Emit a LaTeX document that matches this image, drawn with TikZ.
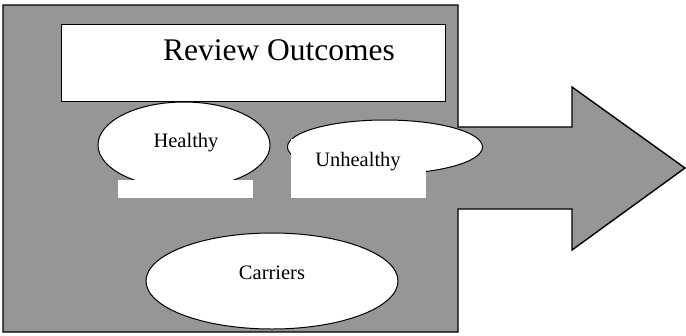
\documentclass[tikz,border=0pt]{standalone}
\usepackage{fontspec}
\setmainfont{Liberation Serif}
\usetikzlibrary{shapes.geometric}
\definecolor{panelgray}{RGB}{150, 150, 150}

\begin{document}
\begin{tikzpicture}[
        x=1pt, y=-1pt,
        outcome/.style={draw, ellipse, fill=white, line width=1pt, inner sep=0pt},
        patch/.style={fill=white, draw=none, inner sep=0pt, anchor=north west},
        label/.style={inner sep=0pt, anchor=base, font=\fontsize{20.5}{24}\selectfont}
    ]
        \useasboundingbox (0,0) rectangle (686,335);

        % Panel with arrow
        \draw[fill=panelgray, line width=1.4pt, line join=miter]
            (3,5) -- (458,5) -- (458,127) -- (572,127) -- (572,87) -- (685,168)
            -- (572,250) -- (572,209) -- (458,209) -- (458,332) -- (3,332) -- cycle;

        % Title
        \node[draw, fill=white, line width=1.4pt, inner sep=0pt, anchor=north west,
              minimum width=384pt, minimum height=77pt] (title) at (61,24) {};
        \node[inner sep=0pt, anchor=base, font=\fontsize{31.5}{36}\selectfont] (titletext) at (279,60) {Review Outcomes};

        % Healthy
        \node[outcome, minimum width=172pt, minimum height=86pt] (healthy) at (184,145) {};
        \node[patch, minimum width=135pt, minimum height=18pt] (healthypatch) at (118,180) {};
        \node[label] (healthytext) at (186,147) {Healthy};

        % Unhealthy
        \node[outcome, minimum width=195pt, minimum height=54pt] (unhealthy) at (385,147) {};
        \node[patch, minimum width=135pt, minimum height=59pt] (unhealthypatch) at (291,139) {};
        \node[label] (unhealthytext) at (358,166) {Unhealthy};

        % Carriers
        \node[outcome, minimum width=252pt, minimum height=96pt] (carriers) at (272,281) {};
        \node[label] (carrierstext) at (272,279) {Carriers};
    \end{tikzpicture}
\end{document}
